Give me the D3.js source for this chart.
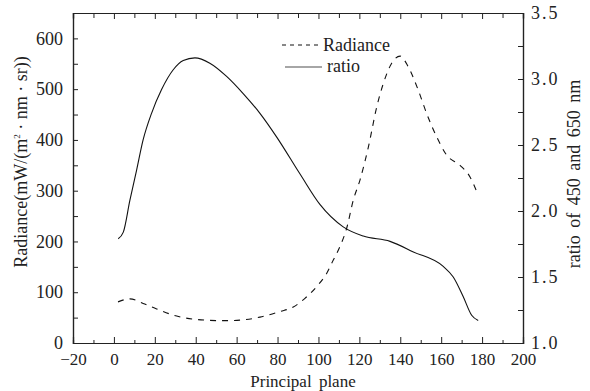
<!DOCTYPE html>
<html>
<head>
<meta charset="utf-8">
<script src="https://cdn.jsdelivr.net/npm/d3@7"></script>
<style>
body{margin:0;background:#fff;}
svg text{font-family:"Liberation Serif","Times New Roman",serif !important;}
</style>
</head>
<body>
<div id="plot"></div>
<script>
// data
var radX = [2,7.8,14.3,20.9,30.7,38.8,53.4,61.6,71.4,81.2,87.7,93.4,99.1,104,107.2,110.5,113.8,117,120.3,124.4,128.5,131.7,135.8,139.9,143.9,148.8,152.9,157.8,162.7,169.2,174.1,178.1];
var radY = [81,87,78,67,53,47,44,45,51,62,71,88,111,137,163,190,226,281,321,386,465,511,551,565,544,498,452,406,370,350,327,291];
var ratX = [2.1,4.6,7.8,11.1,14.3,18.4,23.3,29,33.9,39.6,46.9,55.1,63.2,71.4,79.6,91,100.7,112.1,121.9,135,146.4,161,165.9,170.8,174.9,178.1];
var ratY = [1.79,1.84,2.08,2.31,2.54,2.74,2.92,3.07,3.14,3.16,3.12,3.02,2.89,2.74,2.56,2.28,2.05,1.88,1.81,1.77,1.69,1.58,1.50,1.35,1.21,1.17];
var xTicks = [-20,0,20,40,60,80,100,120,140,160,180,200];
var leftTicks = [0,100,200,300,400,500,600];
var rightTicks = [1.0,1.5,2.0,2.5,3.0,3.5];

var margin = {t:13,r:67,b:48,l:73};
var W = 590, H = 391;
var width = W-margin.l-margin.r, height = H-margin.t-margin.b;

var svg = d3.select('#plot').append('svg')
	.attr('width',W).attr('height',H);
var plot = svg.append('g')
	.attr('transform','translate('+margin.l+','+margin.t+')');

var x = d3.scaleLinear().domain([-20,200]).range([0,width]);
var yL = d3.scaleLinear().domain([0,650]).range([height,0]);
var yR = d3.scaleLinear().domain([1,3.5]).range([height,0]);

// minor ticks first, inward
plot.append('g').attr('transform','translate(0,'+height+')')
	.call(d3.axisBottom(x).tickValues(d3.range(-10,200,20)).tickSize(-3).tickFormat(''));
plot.append('g')
	.call(d3.axisTop(x).tickValues(d3.range(-10,200,20)).tickSize(-5).tickFormat(''));
plot.append('g')
	.call(d3.axisLeft(yL).tickValues(d3.range(50,650,100)).tickSize(-5).tickFormat(''));
plot.append('g').attr('transform','translate('+width+',0)')
	.call(d3.axisRight(yR).tickValues([1.25,1.75,2.25,2.75,3.25]).tickSize(-5).tickFormat(''));

// major axes
var bx = plot.append('g').attr('transform','translate(0,'+height+')')
	.call(d3.axisBottom(x).tickValues(xTicks).tickSize(-6).tickPadding(10).tickFormat(d3.format('d')));
bx.selectAll('text').attr('font-size',17);
plot.append('g')
	.call(d3.axisTop(x).tickValues(xTicks).tickSize(-6).tickFormat(''));
var ly = plot.append('g')
	.call(d3.axisLeft(yL).tickValues(leftTicks).tickSize(-5).tickPadding(10));
ly.selectAll('text').attr('font-size',18);
var ry = plot.append('g').attr('transform','translate('+width+',0)')
	.call(d3.axisRight(yR).tickValues(rightTicks).tickSize(-5).tickPadding(8).tickFormat(d3.format('.1f')));
ry.selectAll('text').attr('font-size',18).attr('letter-spacing',2);

plot.selectAll('.domain').attr('stroke','#222').attr('stroke-width',1.2);
plot.selectAll('.tick line').attr('stroke','#222');

// lines
var radData = radX.map(function(d,i){return [d,radY[i]];});
var ratData = ratX.map(function(d,i){return [d,ratY[i]];});

plot.append('path').datum(radData)
	.attr('fill','none').attr('stroke','#111').attr('stroke-width',1.1)
	.attr('stroke-dasharray','6,6')
	.attr('d',d3.line().x(function(d){return x(d[0]);}).y(function(d){return yL(d[1]);}).curve(d3.curveMonotoneX));

plot.append('path').datum(ratData)
	.attr('fill','none').attr('stroke','#111').attr('stroke-width',1.1)
	.attr('d',d3.line().x(function(d){return x(d[0]);}).y(function(d){return yR(d[1]);}).curve(d3.curveMonotoneX));

// legend
svg.append('line').attr('x1',282).attr('x2',320).attr('y1',45).attr('y2',45)
	.attr('stroke','#111').attr('stroke-dasharray','4,4');
svg.append('text').attr('x',323).attr('y',51).attr('font-size',18).text('Radiance');
svg.append('line').attr('x1',285).attr('x2',322).attr('y1',67).attr('y2',67)
	.attr('stroke','#888').attr('stroke-width',1.6);
svg.append('text').attr('x',327).attr('y',72).attr('font-size',18).text('ratio');

// axis titles
svg.append('text').attr('x',303).attr('y',387).attr('text-anchor','middle')
	.attr('font-size',17).attr('word-spacing',3).text('Principal plane');
svg.append('text').attr('transform','translate(27,162) rotate(-90)').attr('text-anchor','middle')
	.attr('font-size',18)
	.html('Radiance(mW/(m<tspan dy="-7" font-size="9">2</tspan><tspan dy="7"> · nm · sr))</tspan>');
svg.append('text').attr('transform','translate(580,174) rotate(-90)').attr('text-anchor','middle')
	.attr('font-size',18).attr('word-spacing',3).text('ratio of 450 and 650 nm');

svg.selectAll('text').attr('fill','#222');
</script>
</body>
</html>
